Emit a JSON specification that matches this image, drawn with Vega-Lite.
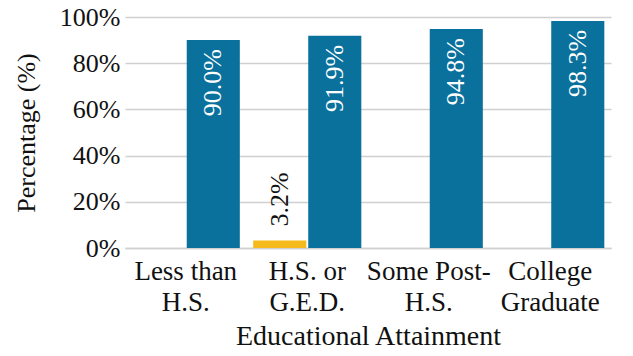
{
  "$schema": "https://vega.github.io/schema/vega-lite/v6.json",
  "width": 486,
  "height": 231,
  "autosize": {"type": "none"},
  "padding": {"left": 125, "top": 17, "right": 22, "bottom": 108},
  "background": "white",
  "config": {
    "view": {"stroke": null}
  },
  "data": {
    "values": [
      {"level": "Less than|H.S.", "series": "Series 1", "value": null},
      {"level": "Less than|H.S.", "series": "Series 2", "value": 90.0},
      {"level": "H.S. or|G.E.D.", "series": "Series 1", "value": 3.2},
      {"level": "H.S. or|G.E.D.", "series": "Series 2", "value": 91.9},
      {"level": "Some Post-|H.S.", "series": "Series 2", "value": 94.8},
      {"level": "College|Graduate", "series": "Series 2", "value": 98.3}
    ]
  },
  "transform": [{"calculate": "datum.value == null ? '' : format(datum.value, '.1f') + '%'", "as": "label"}],
  "encoding": {
    "x": {
      "field": "level",
      "type": "nominal",
      "sort": null,
      "scale": {"paddingInner": 0.11, "paddingOuter": 0.055},
      "axis": {
        "title": "Educational Attainment",
        "titleFont": "Liberation Serif",
        "titleFontSize": 28,
        "titleFontWeight": "normal",
        "titleColor": "#111",
        "titlePadding": 7,
        "labelExpr": "split(datum.value, '|')",
        "labelFont": "Liberation Serif",
        "labelFontWeight": "normal",
        "labelAngle": 0,
        "labelFontSize": 27,
        "labelLineHeight": 31,
        "labelColor": "#111",
        "labelPadding": 10,
        "ticks": false,
        "domain": true,
        "domainColor": "#d0d0d0",
        "domainWidth": 1.5
      }
    },
    "xOffset": {
      "field": "series",
      "type": "nominal",
      "scale": {"paddingInner": 0.036, "paddingOuter": 0, "domain": ["Series 1", "Series 2"]}
    },
    "y": {
      "field": "value",
      "type": "quantitative",
      "scale": {"domain": [0, 100]},
      "axis": {
        "title": "Percentage (%)",
        "titleFont": "Liberation Serif",
        "titleFontSize": 26,
        "titleFontWeight": "normal",
        "titleColor": "#111",
        "titlePadding": 20,
        "values": [0, 20, 40, 60, 80, 100],
        "labelExpr": "datum.value + '%'",
        "labelFont": "Liberation Serif",
        "labelFontWeight": "normal",
        "labelFontSize": 26,
        "labelColor": "#111",
        "labelPadding": 5,
        "ticks": false,
        "domain": false,
        "gridColor": "#d0d0d0",
        "gridWidth": 1.5
      }
    }
  },
  "layer": [
    {
      "mark": {"type": "bar"},
      "encoding": {
        "color": {
          "field": "series",
          "type": "nominal",
          "scale": {"domain": ["Series 1", "Series 2"], "range": ["#F5BA1C", "#0A709C"]},
          "legend": null
        }
      }
    },
    {
      "transform": [{"filter": "datum.series === 'Series 2'"}],
      "mark": {"type": "text", "font": "Liberation Serif", "fontWeight": "normal", "angle": 270, "align": "right", "baseline": "middle", "dx": -9, "fontSize": 26, "color": "white"},
      "encoding": {
        "text": {"field": "label", "type": "nominal"},
        "detail": {"field": "series"}
      }
    },
    {
      "transform": [{"filter": "datum.series === 'Series 1' && datum.value != null"}],
      "mark": {"type": "text", "font": "Liberation Serif", "fontWeight": "normal", "angle": 270, "align": "left", "baseline": "middle", "dx": 14, "fontSize": 26, "color": "#111"},
      "encoding": {
        "text": {"field": "label", "type": "nominal"},
        "detail": {"field": "series"}
      }
    }
  ]
}
